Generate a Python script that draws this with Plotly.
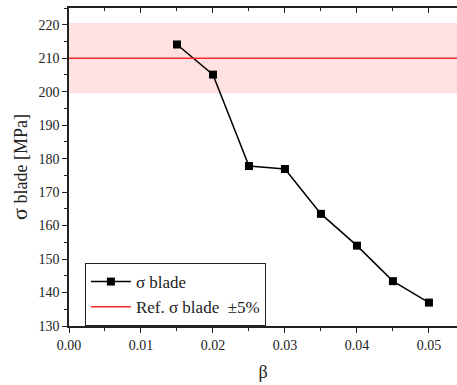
import plotly.graph_objects as go

beta = [0.015, 0.020, 0.025, 0.030, 0.035, 0.040, 0.045, 0.050]
sigma_blade = [214.1, 205.1, 177.8, 176.9, 163.5, 154.0, 143.4, 137.0]
ref_sigma = 210.0
tolerance = 0.05
x_range = [0.0, 0.0539]
y_range = [130, 225]
x_ticks = [0.00, 0.01, 0.02, 0.03, 0.04, 0.05]
x_tick_labels = ["0.00", "0.01", "0.02", "0.03", "0.04", "0.05"]
y_ticks = [130, 140, 150, 160, 170, 180, 190, 200, 210, 220]

FONT = "Liberation Serif"

fig = go.Figure()

fig.add_shape(type="rect", xref="paper", yref="y", x0=0, x1=1,
              y0=ref_sigma * (1 - tolerance), y1=ref_sigma * (1 + tolerance),
              fillcolor="rgba(255,205,205,0.6)", line=dict(width=0), layer="below")

fig.add_trace(go.Scatter(
    x=beta, y=sigma_blade, mode="lines+markers", name="σ blade",
    line=dict(color="black", width=1.5),
    marker=dict(symbol="square", size=8, color="black"),
))
fig.add_trace(go.Scatter(
    x=x_range, y=[ref_sigma, ref_sigma], mode="lines", name="Ref. σ blade  ±5%",
    line=dict(color="#ff2a2a", width=1.5),
))
# invisible helper traces so the top axes (inward major / minor ticks) are drawn
for ax in ("x2", "x3"):
    fig.add_trace(go.Scatter(
        x=beta, y=sigma_blade, xaxis=ax, mode="markers",
        marker=dict(size=1, color="rgba(0,0,0,0)"), showlegend=False, hoverinfo="skip",
    ))

axis_common = dict(showline=True, linecolor="#222", linewidth=1.5, showgrid=False,
                   zeroline=False, tickcolor="#222", tickwidth=1.2,
                   tickfont=dict(family=FONT, size=14, color="#222"))

fig.update_layout(
    width=457, height=385,
    margin=dict(l=69, r=0, t=8, b=59),
    paper_bgcolor="white", plot_bgcolor="white",
    font=dict(family=FONT, size=14, color="#222"),
    showlegend=True,
    legend=dict(x=0.041, y=0.198, xanchor="left", yanchor="top",
                bgcolor="white", bordercolor="#222", borderwidth=1,
                font=dict(family=FONT, size=17, color="#222"),
                tracegroupgap=0, itemwidth=40),
    xaxis=dict(range=x_range, tickvals=x_ticks, ticktext=x_tick_labels,
               ticks="outside", ticklen=5, mirror=True,
               minor=dict(dtick=0.005, ticks="outside", ticklen=3, tickcolor="#222", tickwidth=1.2),
               title=dict(text="β", font=dict(family=FONT, size=18, color="#222"), standoff=14),
               **axis_common),
    xaxis2=dict(range=x_range, overlaying="x", side="top",
                dtick=0.01, tick0=0, showticklabels=False, ticks="inside", ticklen=5,
                tickcolor="#222", tickwidth=1.2,
                showline=True, linecolor="#222", linewidth=1.5, showgrid=False, zeroline=False),
    xaxis3=dict(range=x_range, overlaying="x", side="top",
                dtick=0.005, tick0=0, showticklabels=False, ticks="inside", ticklen=3,
                tickcolor="#222", tickwidth=1.2,
                showline=False, showgrid=False, zeroline=False),
    yaxis=dict(range=y_range, tickvals=y_ticks, ticks="outside", ticklen=5,
               minor=dict(dtick=5, ticks="outside", ticklen=3, tickcolor="#222", tickwidth=1.2),
               title=dict(text="<span style='font-size:22px'>σ</span> blade [MPa]",
                          font=dict(family=FONT, size=18, color="#222"), standoff=6),
               **axis_common),
)

fig.write_html("out.html")
